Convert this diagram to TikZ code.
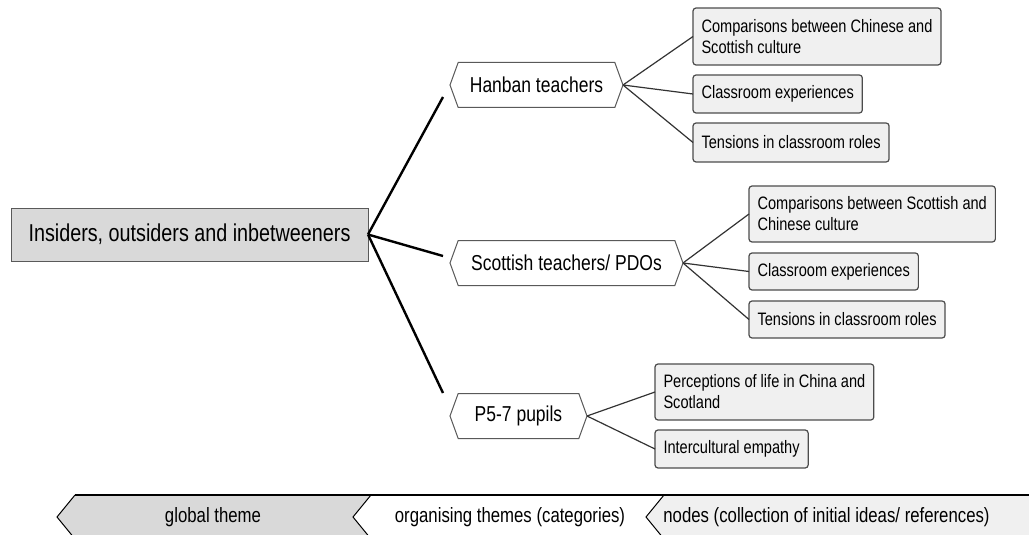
\documentclass[tikz,border=0pt]{standalone}
\usepackage{fontspec}
\setmainfont{Liberation Sans}[FakeStretch=0.81]
\usetikzlibrary{shapes.symbols}

\begin{document}
\begin{tikzpicture}[x=1pt,y=-1pt,inner sep=0pt,outer sep=0pt,
    global/.style={draw=gray!70!black,fill=gray!30,line width=1pt,minimum width=357pt,minimum height=53pt,font=\fontsize{24.4}{28}\selectfont},
    organise/.style={shape=signal,signal to=west and east,signal pointer angle=140,draw=gray!70!black,fill=white,line width=1pt,minimum height=45pt,font=\fontsize{21.6}{25}\selectfont},
    idea/.style={draw=gray!60!black,fill=gray!12,line width=1.2pt,rounded corners=3pt,anchor=west,align=left,inner xsep=8.5pt,minimum height=38pt,font=\fontsize{18}{21}\selectfont},
    trunk/.style={line width=2.4pt,black},
    twig/.style={line width=1.2pt,gray!40!black},
    key/.style={font=\fontsize{20.7}{24}\selectfont}]
    \useasboundingbox (0,0) rectangle (1029,535);
    % global theme
    \node[global] (insiders) at (189.5,234.5) {Insiders, outsiders and inbetweeners};
    % organising themes
    \node[organise,minimum width=173pt] (hanban) at (536.5,85) {Hanban teachers};
    \node[organise,minimum width=233pt] (scottish) at (566.5,263) {Scottish teachers/ PDOs};
    \node[organise,minimum width=137pt] (pupils) at (518.5,416) {P5-7 pupils};
    \coordinate (hanban-in) at (443,97);
    \coordinate (scottish-in) at (443,256);
    \coordinate (pupils-in) at (443,393);
    \foreach \theme in {hanban,scottish,pupils}
        \draw[trunk] (insiders.east) -- (\theme-in);
    % nodes
    \node[idea,minimum height=57pt] (han-comp) at (693,36.5) {Comparisons between Chinese and\\Scottish culture};
    \node[idea] (han-class) at (693,94) {Classroom experiences};
    \node[idea,minimum height=39pt] (han-tens) at (693,142.5) {Tensions in classroom roles};
    \node[idea,minimum height=56pt] (sco-comp) at (749,214) {Comparisons between Scottish and\\Chinese culture};
    \node[idea,minimum height=37pt] (sco-class) at (749,271.5) {Classroom experiences};
    \node[idea,minimum height=37pt] (sco-tens) at (749,319.5) {Tensions in classroom roles};
    \node[idea,minimum height=56pt] (pup-life) at (655,392) {Perceptions of life in China and\\Scotland};
    \node[idea] (pup-emp) at (655,449) {Intercultural empathy};
    \foreach \leaf in {comp,class,tens} {
        \draw[twig] (hanban.east) -- (han-\leaf.west);
        \draw[twig] (scottish.east) -- (sco-\leaf.west);
    }
    \foreach \leaf in {life,emp}
        \draw[twig] (pupils.east) -- (pup-\leaf.west);
    % key along the bottom
    \begin{scope}
        \clip (0,0) rectangle (1029,535);
        \fill[gray!30] (57,517) -- (75,495) -- (371,495) -- (353,517) -- (371,539) -- (75,539) -- cycle;
        \fill[gray!12] (646,517) -- (664,495) -- (1035,495) -- (1035,539) -- (664,539) -- cycle;
        \draw[line width=1pt] (75,539) -- (57,517) -- (75,495);
        \draw[line width=1.6pt] (75,495) -- (1035,495);
        \draw[line width=1pt] (371,539) -- (353,517) -- (371,495);
        \draw[line width=1pt] (664,539) -- (646,517) -- (664,495);
    \end{scope}
    \node[key] (key-global) at (213,517) {global theme};
    \node[key] (key-organise) at (510,517) {organising themes (categories)};
    \node[key] (key-nodes) at (826.5,517) {nodes (collection of initial ideas/ references)};
\end{tikzpicture}
\end{document}
